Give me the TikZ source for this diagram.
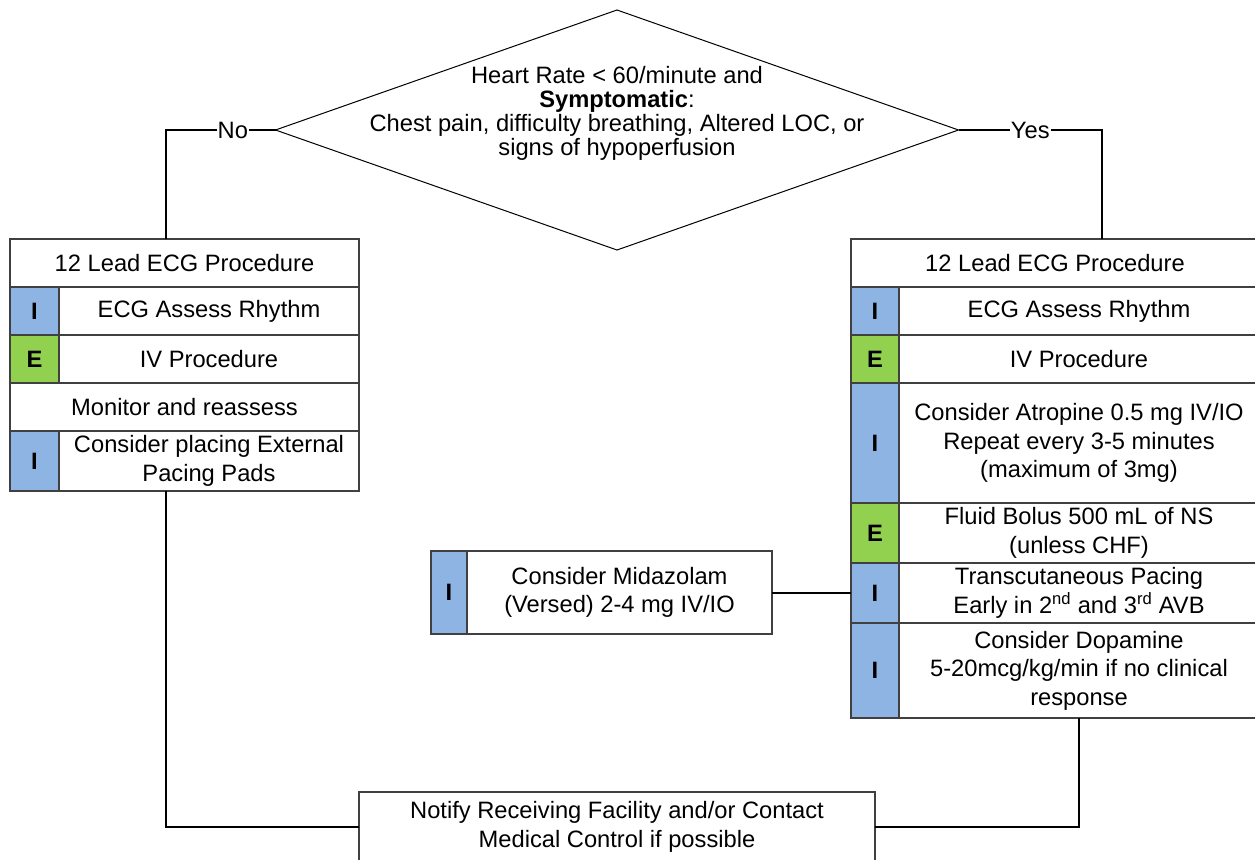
\documentclass[tikz,border=0pt]{standalone}
\usepackage{fontspec}
\setmainfont{Liberation Sans}
\usepackage{xcolor}
\usetikzlibrary{positioning, shapes.geometric}
\definecolor{tagblue}{HTML}{8EB4E3}
\definecolor{taggreen}{HTML}{92D050}
\definecolor{boxline}{HTML}{404040}
\newcommand{\boxfont}{\fontsize{23.7}{28.5}\selectfont}

\begin{document}
\begin{tikzpicture}[
  x=1pt, y=-1pt,
  cell/.style={draw=boxline, line width=1.5pt, fill=white, inner sep=0, outer sep=0, align=center, anchor=north west, font=\boxfont},
  tagI/.style={cell, fill=tagblue, font=\boxfont\bfseries},
  tagE/.style={cell, fill=taggreen, font=\boxfont\bfseries},
  decision/.style={diamond, draw, line width=1pt, minimum width=683pt, minimum height=240pt, inner sep=0, outer sep=0},
  link/.style={draw, line width=2pt},
  answer/.style={fill=white, inner sep=1pt, font=\boxfont},
]
  \clip (0,0) rectangle (1255,859);
  \fill[white] (0,0) rectangle (1255,859);

  % decision
  \node[decision] (cond) at (617,130) {};
  \node[align=center, font=\fontsize{23.7}{24}\selectfont] (condtext) at (617,113)
    {Heart Rate < 60/minute and\\\textbf{Symptomatic}:\\Chest pain, difficulty breathing, Altered LOC, or\\signs of hypoperfusion};

  % left column (No)
  \node[cell, minimum width=349pt, minimum height=48pt] (lhead) at (10,239) {12 Lead ECG Procedure};
  \node[tagI, minimum width=49pt, minimum height=48pt] (ltag1) at (lhead.south west) {I};
  \node[cell, minimum width=300pt, minimum height=48pt, right=0 of ltag1] (lecg) {ECG Assess Rhythm};
  \node[tagE, minimum width=49pt, minimum height=48pt] (ltag2) at (ltag1.south west) {E};
  \node[cell, minimum width=300pt, minimum height=48pt, right=0 of ltag2] (liv) {IV Procedure};
  \node[cell, minimum width=349pt, minimum height=48pt] (lmon) at (ltag2.south west) {Monitor and reassess};
  \node[tagI, minimum width=49pt, minimum height=60pt] (ltag3) at (lmon.south west) {I};
  \node[cell, minimum width=300pt, minimum height=60pt, right=0 of ltag3] (lpads) {Consider placing External\\Pacing Pads};

  % right column (Yes)
  \node[cell, minimum width=408pt, minimum height=48pt] (rhead) at (851,239) {12 Lead ECG Procedure};
  \node[tagI, minimum width=48pt, minimum height=48pt] (rtag1) at (rhead.south west) {I};
  \node[cell, minimum width=360pt, minimum height=48pt, right=0 of rtag1] (recg) {ECG Assess Rhythm};
  \node[tagE, minimum width=48pt, minimum height=48pt] (rtag2) at (rtag1.south west) {E};
  \node[cell, minimum width=360pt, minimum height=48pt, right=0 of rtag2] (riv) {IV Procedure};
  \node[tagI, minimum width=48pt, minimum height=120pt] (rtag3) at (rtag2.south west) {I};
  \node[cell, minimum width=360pt, minimum height=120pt, right=0 of rtag3] (ratro) {Consider Atropine 0.5 mg IV/IO\\Repeat every 3-5 minutes\\(maximum of 3mg)};
  \node[tagE, minimum width=48pt, minimum height=60pt] (rtag4) at (rtag3.south west) {E};
  \node[cell, minimum width=360pt, minimum height=60pt, right=0 of rtag4] (rfluid) {Fluid Bolus 500 mL of NS\\(unless CHF)};
  \node[tagI, minimum width=48pt, minimum height=60pt] (rtag5) at (rtag4.south west) {I};
  \node[cell, minimum width=360pt, minimum height=60pt, right=0 of rtag5] (rpace) {Transcutaneous Pacing\\Early in 2\textsuperscript{nd} and 3\textsuperscript{rd} AVB};
  \node[tagI, minimum width=48pt, minimum height=95pt] (rtag6) at (rtag5.south west) {I};
  \node[cell, minimum width=360pt, minimum height=95pt, right=0 of rtag6] (rdopa) {Consider Dopamine\\5-20mcg/kg/min if no clinical\\response};

  % side box
  \node[tagI, minimum width=36pt, minimum height=83pt] (mtag) at (431,551) {I};
  \node[cell, minimum width=305pt, minimum height=83pt, right=0 of mtag] (mida) {Consider Midazolam\\(Versed) 2-4 mg IV/IO};

  % end box
  \node[cell, minimum width=516pt, minimum height=70pt] (notify) at (359,792) {Notify Receiving Facility and/or Contact\\Medical Control if possible};

  % connectors
  \coordinate (nobend) at (166,130);
  \coordinate (yesbend) at (1102,130);
  \draw[link] (cond.west) -- node[answer, pos=0.39] {No} (nobend) -- (nobend |- lhead.north);
  \draw[link] (cond.east) -- node[answer] {Yes} (yesbend) -- (yesbend |- rhead.north);
  \draw[link] (mida.east) -- (mida.east -| rtag5.west);
  \draw[link] (lpads.south -| nobend) -- (nobend |- notify.west) -- (notify.west);
  \draw[link] (rdopa.south) -- (rdopa.south |- notify.east) -- (notify.east);
\end{tikzpicture}
\end{document}
